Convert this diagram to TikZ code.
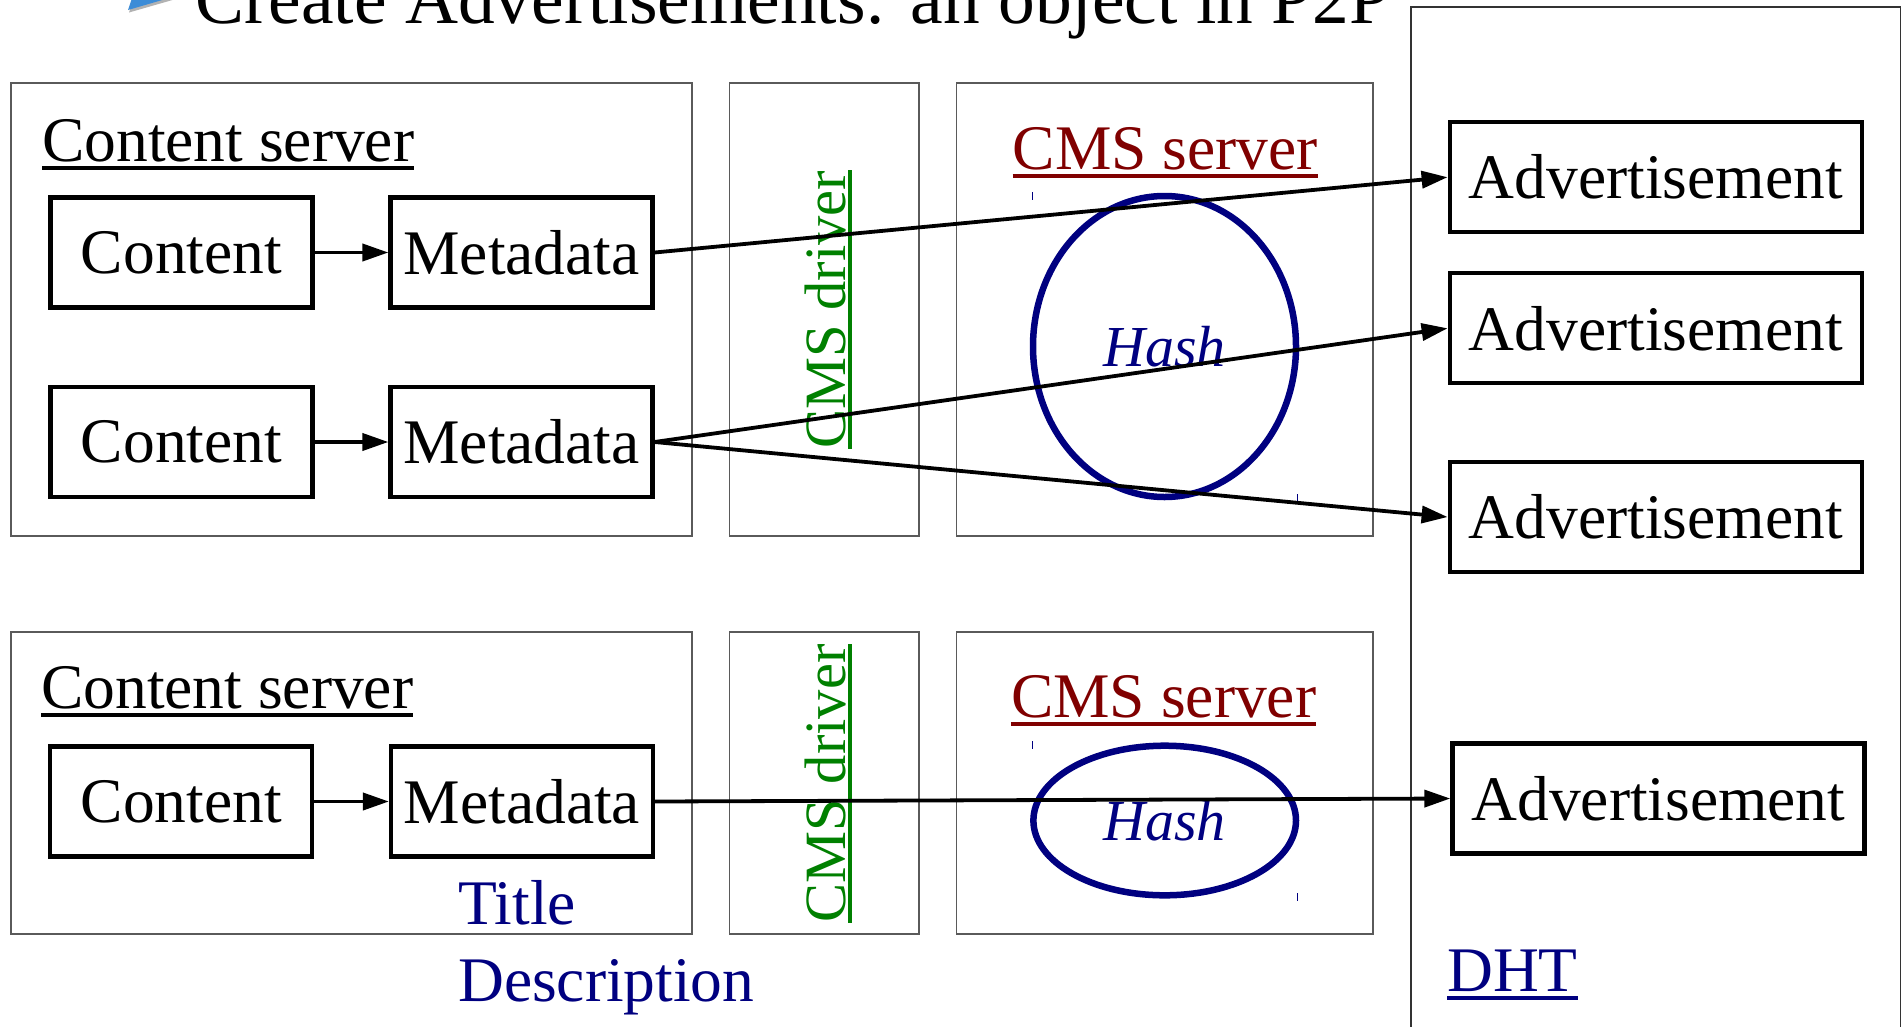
\documentclass[tikz,border=0pt]{standalone}
\usepackage{fontspec}
\setmainfont{Liberation Serif}
\usetikzlibrary{arrows.meta,calc,shapes.geometric}
\definecolor{navyc}{RGB}{0,0,128}
\definecolor{maroonc}{RGB}{128,0,0}
\definecolor{greenc}{RGB}{0,128,0}
\definecolor{bulletblue}{RGB}{60,140,215}
\definecolor{framegray}{RGB}{90,90,90}
\begin{document}
\begin{tikzpicture}[x=1pt,y=-1pt,
  container/.style={draw=framegray,line width=1.8pt},
  itembox/.style={draw=black,line width=4.2pt,inner sep=0pt,minimum height=110pt,font=\fontsize{63.5}{70}\selectfont},
  cbox/.style={itembox,minimum width=262pt},
  adbox/.style={itembox,minimum width=412pt},
  lbl/.style={inner sep=0pt,font=\fontsize{63.5}{70}\selectfont},
  drvlbl/.style={inner sep=0pt,font=\fontsize{58.5}{64}\selectfont,text=greenc,rotate=90,anchor=base},
  ulline/.style={line width=4pt},
  flow/.style={line width=3.8pt,-{Triangle[length=26pt,width=17pt]}},
  hashell/.style={draw=navyc,line width=6.5pt,ellipse,inner sep=0pt,text=navyc,font=\itshape\fontsize{58}{64}\selectfont},
  tickmark/.style={draw=navyc,line width=1.2pt}
]
\useasboundingbox (0,0) rectangle (1903,1026);
\clip (0,0) rectangle (1903,1026);
\fill[white] (0,0) rectangle (1903,1026);

% title (clipped)
\fill[gray!60] (140,-18) -- (129,12.5) -- (202,-8.5) -- cycle;
\fill[bulletblue] (138,-20) -- (128,10) -- (200,-11) -- cycle;
\node[inner sep=0pt,anchor=base west,font=\fontsize{73.4}{80}\selectfont] (title) at (195,23.3) {Create Advertisements: an object in P2P};

% DHT region
\draw[line width=1.6pt,draw=black!80] (1410.7,7) rectangle (1900.5,1060);

% containers
\draw[container] (11,83) rectangle (692,536);
\draw[container] (729.5,83) rectangle (918.7,536);
\draw[container] (956.5,83) rectangle (1372.7,536);
\draw[container] (11,632) rectangle (692,934);
\draw[container] (729.5,632) rectangle (918.7,934);
\draw[container] (956.5,632) rectangle (1372.7,934);

% labels
\node[lbl,anchor=base west] (cs1) at (42,161.7) {Content server};
\draw[ulline] ($(cs1.base west)+(0,6.7)$) -- ($(cs1.base east)+(0,6.7)$);
\node[lbl,anchor=base west] (cs2) at (41,708.5) {Content server};
\draw[ulline] ($(cs2.base west)+(0,6.7)$) -- ($(cs2.base east)+(0,6.7)$);

\node[lbl,anchor=base,text=maroonc] (cms1) at (1165.3,169) {CMS server};
\draw[ulline,maroonc] ($(cms1.base west)+(0,6.7)$) -- ($(cms1.base east)+(0,6.7)$);
\node[lbl,anchor=base,text=maroonc] (cms2) at (1163.7,717) {CMS server};
\draw[ulline,maroonc] ($(cms2.base west)+(0,6.7)$) -- ($(cms2.base east)+(0,6.7)$);

\node[drvlbl] (drv1) at (845,309.5) {CMS driver};
\draw[ulline,greenc] ($(drv1.base west)+(4.5,0)$) -- ($(drv1.base east)+(4.5,0)$);
\node[drvlbl] (drv2) at (845,783.4) {CMS driver};
\draw[ulline,greenc] ($(drv2.base west)+(4.5,0)$) -- ($(drv2.base east)+(4.5,0)$);

\node[lbl,anchor=base west,text=navyc] (ttl) at (458,924) {Title};
\node[lbl,anchor=base west,text=navyc] (desc) at (458,1001) {Description};
\node[lbl,anchor=base west,text=navyc] (dht) at (1447,991) {DHT};
\draw[ulline,navyc] ($(dht.base west)+(0,6.7)$) -- ($(dht.base east)+(0,6.7)$);

% hash ellipses
\node[hashell,minimum width=263pt,minimum height=301pt] (h1) at (1164.5,346.5) {Hash};
\node[hashell,minimum width=262.6pt,minimum height=149.6pt] (h2) at (1164.7,820.5) {Hash};
\draw[tickmark] (1032.7,192) -- (1032.7,200);
\draw[tickmark] (1297.7,494) -- (1297.7,502);
\draw[tickmark] (1032.6,741) -- (1032.6,749);
\draw[tickmark] (1297.3,893) -- (1297.3,901);

% content / metadata
\node[cbox] (c1) at (181.5,252.5) {Content};
\node[cbox] (m1) at (521.5,252.5) {Metadata};
\node[cbox] (c2) at (181.5,442) {Content};
\node[cbox] (m2) at (521.5,442) {Metadata};
\node[cbox] (c3) at (181.3,801.5) {Content};
\node[cbox] (m3) at (522,801.5) {Metadata};

% advertisements
\node[adbox] (a1) at (1655.7,177.2) {Advertisement};
\node[adbox] (a2) at (1655.7,328.3) {Advertisement};
\node[adbox] (a3) at (1655.7,517) {Advertisement};
\node[adbox] (a4) at (1658.4,798.5) {Advertisement};

% connectors
\draw[flow] (c1) -- (m1);
\draw[flow] (c2) -- (m2);
\draw[flow] (c3) -- (m3);
\draw[flow] (m1.east) -- (a1.west);
\draw[flow] (m2.east) -- (a2.west);
\draw[flow] (m2.east) -- (a3.west);
\draw[flow] (m3.east) -- (a4.west);
\end{tikzpicture}
\end{document}
